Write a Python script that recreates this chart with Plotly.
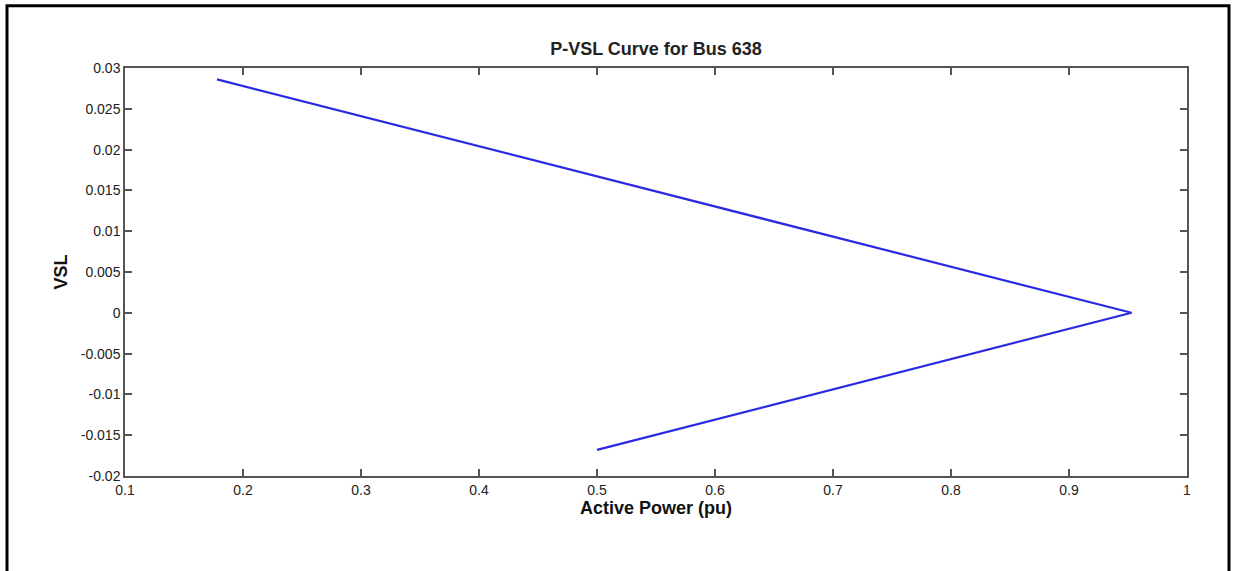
import plotly.graph_objects as go

# Data
power = [0.178, 0.953, 0.500]
vsl = [0.0286, 0.0, -0.0168]

x_ticks = [0.1, 0.2, 0.3, 0.4, 0.5, 0.6, 0.7, 0.8, 0.9, 1.0]
x_labels = ["0.1", "0.2", "0.3", "0.4", "0.5", "0.6", "0.7", "0.8", "0.9", "1"]
y_ticks = [0.03, 0.025, 0.02, 0.015, 0.01, 0.005, 0, -0.005, -0.01, -0.015, -0.02]
y_labels = ["0.03", "0.025", "0.02", "0.015", "0.01", "0.005", "0", "-0.005", "-0.01", "-0.015", "-0.02"]

FONT = "Liberation Sans, Arial"

fig = go.Figure()
fig.add_trace(go.Scatter(x=power, y=vsl, mode="lines",
                         line=dict(color="#2a2ae0", width=2.2), showlegend=False))

axis_common = dict(showgrid=False, zeroline=False, showline=True, linecolor="#555555",
                   linewidth=1.5, mirror="ticks", ticks="inside", ticklen=7,
                   tickcolor="#555555", tickwidth=1.5,
                   tickfont=dict(family=FONT, size=14, color="#222222"))

fig.update_layout(
    width=1236, height=571,
    margin=dict(l=125, r=49, t=68, b=95),
    paper_bgcolor="white", plot_bgcolor="white",
    title=dict(text="<b>P-VSL Curve for Bus 638</b>", x=656 / 1236, xanchor="center",
               y=1 - 49 / 571, yanchor="middle",
               font=dict(family=FONT, size=18, color="#222222")),
    xaxis=dict(range=[0.1, 1.0], tickvals=x_ticks, ticktext=x_labels,
               title=dict(text="<b>Active Power (pu)</b>", standoff=2,
                          font=dict(family=FONT, size=18, color="#111111")),
               **axis_common),
    yaxis=dict(range=[-0.02, 0.03], tickvals=y_ticks, ticktext=y_labels,
               title=dict(text="<b>VSL</b>", standoff=8,
                          font=dict(family=FONT, size=18, color="#111111")),
               **axis_common),
    shapes=[dict(type="rect", xref="paper", yref="paper",
                 x0=(7 - 125) / 1062, x1=(1229 - 125) / 1062,
                 y0=-0.3, y1=(476 - 7) / 407,
                 line=dict(color="black", width=3), fillcolor="rgba(0,0,0,0)")],
)

fig.write_html("out.html")
